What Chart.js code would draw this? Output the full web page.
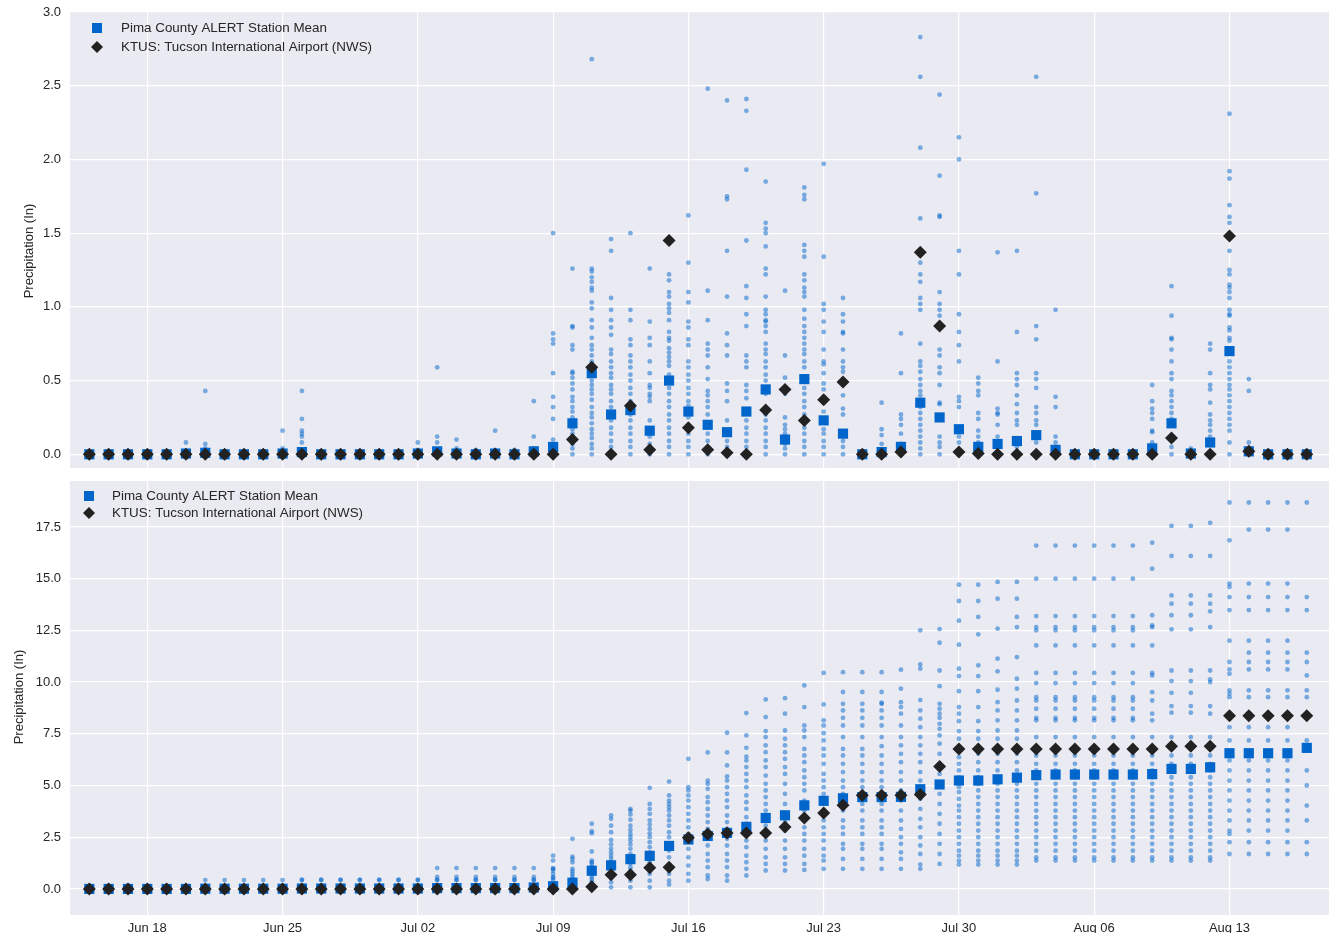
<!DOCTYPE html>
<html><head><meta charset="utf-8">
<script src="https://cdn.jsdelivr.net/npm/chart.js@4.4.1/dist/chart.umd.min.js"></script>
<style>
html,body{margin:0;padding:0;background:#fff;width:1331px;height:933px;overflow:hidden}
canvas{position:absolute;left:0}
#c1{top:0}
#c2{top:469px}
</style></head><body>
<canvas id="c1" width="1331" height="470"></canvas>
<canvas id="c2" width="1331" height="464"></canvas>
<script>
// Day index 0 = Jun 15 ... 63 = Aug 17
const tickDays = [3, 10, 17, 24, 31, 38, 45, 52, 59];
const tickLabels = ['Jun 18', 'Jun 25', 'Jul 02', 'Jul 09', 'Jul 16', 'Jul 23', 'Jul 30', 'Aug 06', 'Aug 13'];
const dailyTicks = [0, 0.5, 1.0, 1.5, 2.0, 2.5, 3.0];
const cumTicks = [0, 2.5, 5.0, 7.5, 10.0, 12.5, 15.0, 17.5];

// Daily precipitation: station mean and KTUS
const meanDaily = [0,0,0,0,0,0.005,0.01,0,0,0,0.005,0.015,0,0,0,0,0,0.005,0.02,0.005,0,0.005,0,0.02,
  0.05,0.21,0.55,0.27,0.3,0.16,0.5,0.29,0.2,0.15,0.29,0.44,0.1,0.51,0.23,0.14,
  0,0.015,0.05,0.35,0.25,0.17,0.05,0.07,0.09,0.13,0.03,0,0,0,0,0.04,0.21,0.005,0.08,0.7,0.02,0,0,0];
const ktusDaily = [0,0,0,0,0,0,0,0,0,0,0,0,0,0,0,0,0,0,0,0,0,0,0,0,
  0,0.1,0.59,0,0.33,0.03,1.45,0.18,0.03,0.01,0,0.3,0.44,0.23,0.37,0.49,
  0,0,0.015,1.37,0.87,0.015,0.005,0,0,0,0,0,0,0,0,0,0.11,0,0,1.48,0.02,0,0,0];

// Daily precipitation at individual stations (one list per day)
const dailyStations = [
  [0],[0],[0],[0],[0],
  [0.08,0],
  [0.43,0.07,0.04,0],
  [0],[0],[0],
  [0.16,0.04,0],
  [0.43,0.24,0.16,0.14,0.12,0.08,0],
  [0],[0],[0],[0],[0],
  [0.08,0.03,0],
  [0.59,0.12,0.08,0],
  [0.1,0.04,0],
  [0.03,0],
  [0.16,0.03,0],
  [0.03,0],
  [0.36,0.12,0.04,0],
  [1.5,0.82,0.78,0.75,0.55,0.39,0.32,0.24,0.1,0.05,0],
  [1.26,0.87,0.86,0.74,0.71,0.56,0.55,0.52,0.48,0.44,0.39,0.36,0.32,0.29,0.25,0.21,0.17,0.14,0.1,0.07,0.04,0],
  [2.68,1.26,1.24,1.2,1.17,1.13,1.11,1.03,0.99,0.91,0.86,0.79,0.74,0.71,0.67,0.63,0.59,0.55,0.5,0.47,0.44,0.41,0.37,0.32,0.28,0.25,0.21,0.17,0.14,0.11,0.07,0.04,0],
  [1.46,1.38,1.06,0.98,0.91,0.86,0.81,0.71,0.68,0.63,0.59,0.55,0.52,0.47,0.44,0.41,0.36,0.32,0.26,0.23,0.18,0.14,0.09,0.05,0],
  [1.5,0.98,0.91,0.78,0.74,0.67,0.63,0.59,0.54,0.5,0.45,0.41,0.36,0.33,0.3,0.27,0.23,0.18,0.14,0.09,0.05,0],
  [1.26,0.9,0.79,0.74,0.63,0.55,0.47,0.45,0.41,0.39,0.36,0.23,0.16,0.12,0.07,0.02,0],
  [1.22,1.18,1.1,1.07,1.02,0.99,0.96,0.91,0.83,0.79,0.77,0.72,0.69,0.66,0.63,0.6,0.54,0.5,0.45,0.41,0.36,0.32,0.27,0.23,0.18,0.14,0.09,0.05,0],
  [1.62,1.3,1.1,1.03,0.9,0.86,0.78,0.74,0.63,0.59,0.54,0.5,0.45,0.41,0.36,0.33,0.29,0.25,0.18,0.14,0.09,0.05,0],
  [2.48,1.11,0.91,0.75,0.71,0.67,0.59,0.51,0.43,0.4,0.36,0.32,0.27,0.2,0.14,0.09,0.03,0],
  [2.4,1.75,1.73,1.38,1.07,0.82,0.74,0.67,0.48,0.43,0.36,0.23,0.15,0.09,0.05,0],
  [2.41,2.33,1.93,1.45,1.14,1.06,0.95,0.87,0.67,0.63,0.59,0.47,0.43,0.38,0.29,0.23,0.18,0.14,0.09,0.05,0],
  [1.85,1.57,1.53,1.5,1.41,1.26,1.22,1.07,0.98,0.95,0.91,0.9,0.87,0.83,0.75,0.71,0.68,0.63,0.59,0.54,0.5,0.44,0.41,0.3,0.27,0.23,0.18,0.14,0.09,0.05,0],
  [1.11,0.67,0.52,0.41,0.25,0.2,0.17,0.14,0.1,0.07,0.04,0],
  [1.81,1.76,1.73,1.42,1.38,1.34,1.22,1.18,1.13,1.1,1.07,0.98,0.92,0.87,0.83,0.79,0.75,0.71,0.68,0.63,0.59,0.51,0.45,0.41,0.36,0.32,0.27,0.23,0.18,0.14,0.09,0.05,0],
  [1.97,1.34,1.02,0.98,0.9,0.83,0.71,0.63,0.61,0.55,0.48,0.44,0.37,0.29,0.22,0.17,0.14,0.09,0.05,0],
  [1.06,0.95,0.9,0.83,0.82,0.71,0.63,0.59,0.56,0.49,0.4,0.31,0.27,0.13,0.09,0.05,0],
  [0.02,0],
  [0.35,0.17,0.13,0.07,0],
  [0.82,0.55,0.27,0.24,0.2,0.14,0.07,0],
  [2.83,2.56,2.08,1.6,1.3,1.22,1.17,1.06,1.02,0.98,0.75,0.63,0.6,0.56,0.51,0.47,0.43,0.4,0.35,0.32,0.28,0.24,0.2,0.16,0.12,0.08,0.04,0],
  [2.44,1.89,1.62,1.61,1.1,1.02,0.98,0.94,0.71,0.67,0.59,0.55,0.47,0.35,0.34,0.25,0.12,0.08,0.05,0],
  [2.15,2.0,1.38,1.22,0.95,0.83,0.74,0.63,0.39,0.36,0.32,0.17,0.12,0.08,0],
  [0.52,0.48,0.43,0.4,0.28,0.24,0.16,0.12,0.08,0.04,0],
  [1.37,0.63,0.31,0.28,0.27,0.2,0.12,0.07,0],
  [1.38,0.83,0.55,0.51,0.47,0.4,0.34,0.28,0.23,0.2,0.09,0.05,0],
  [2.56,1.77,0.87,0.78,0.55,0.51,0.45,0.32,0.28,0.23,0.2,0.13,0.08,0],
  [0.98,0.39,0.32,0.12,0.08,0.03,0],
  [0],[0],[0],[0],
  [0.47,0.36,0.31,0.28,0.24,0.16,0.15,0.08,0.04,0],
  [1.14,0.94,0.79,0.78,0.71,0.63,0.55,0.51,0.43,0.4,0.36,0.32,0.28,0.24,0.21,0.11,0.05,0],
  [0.04,0],
  [0.75,0.71,0.55,0.47,0.44,0.35,0.27,0.23,0.2,0.16,0.12,0.07,0],
  [2.31,1.92,1.87,1.69,1.61,1.57,1.38,1.25,1.22,1.15,1.13,1.1,1.06,0.98,0.95,0.94,0.86,0.84,0.79,0.77,0.63,0.59,0.55,0.51,0.47,0.44,0.4,0.36,0.32,0.28,0.24,0.2,0.16,0.08,0],
  [0.51,0.43,0.08,0.02,0],
  [0],[0],[0]
];

// Cumulative precipitation: station mean and KTUS
const meanCum = [0,0,0,0,0,0,0.01,0.01,0.01,0.01,0.01,0.02,0.02,0.02,0.02,0.02,0.02,0.02,0.04,0.04,0.04,0.04,0.04,0.07,
  0.13,0.3,0.88,1.14,1.44,1.6,2.08,2.39,2.56,2.71,3.0,3.43,3.56,4.04,4.26,4.38,
  4.44,4.44,4.45,4.82,5.05,5.24,5.24,5.3,5.38,5.5,5.53,5.53,5.53,5.53,5.53,5.55,5.8,5.8,5.88,6.56,6.56,6.56,6.56,6.82];
const ktusCum = [0,0,0,0,0,0,0,0,0,0,0,0,0,0,0,0,0,0,0,0,0,0,0,0,0,0,
  0.1,0.69,0.69,1.03,1.05,2.48,2.66,2.7,2.71,2.71,3.0,3.43,3.67,4.05,
  4.53,4.53,4.53,4.56,5.92,6.77,6.77,6.77,6.77,6.77,6.77,6.77,6.77,6.77,6.77,6.77,6.9,6.9,6.9,8.37,8.37,8.37,8.37,8.37];

// Cumulative precipitation at individual stations (one list per day)
const cumStations = [
  [0],[0],[0],[0],[0],[0],
  [0.43,0],[0.43,0],[0.43,0],[0.43,0],[0.43,0],
  [0.45,0.43,0],[0.45,0.43,0],[0.45,0.43,0],[0.45,0.43,0],[0.45,0.43,0],[0.45,0.43,0],[0.45,0.43,0],
  [1.01,0.58,0.45,0.43,0],[1.01,0.58,0.45,0.43,0],[1.01,0.58,0.45,0.43,0],[1.01,0.58,0.45,0.43,0],[1.01,0.58,0.45,0.43,0],[1.01,0.58,0.45,0.43,0],
  [1.61,1.37,1.01,0.97,0.89,0.73,0.58,0.53,0.43,0.24,0.11,0],
  [2.42,1.56,1.45,1.29,0.97,0.85,0.73,0.6,0.48,0.37,0.24,0.11,0],
  [3.15,2.79,2.69,1.81,1.37,1.29,1.21,1.05,0.89,0.73,0.6,0.48,0.37,0.24,0.11,0],
  [3.55,3.39,3.06,2.74,2.37,2.15,1.94,1.77,1.61,1.45,1.29,1.05,0.89,0.73,0.53,0.32,0.08],
  [3.87,3.79,3.6,3.35,3.06,2.85,2.66,2.5,2.34,2.15,1.94,1.69,1.45,1.24,1.05,0.89,0.65,0.4,0.08],
  [4.89,4.11,3.87,3.63,3.31,3.11,2.9,2.69,2.5,2.26,2.02,1.77,1.53,1.29,1.05,0.73,0.4,0.08],
  [5.19,4.52,4.27,4.11,3.95,3.79,3.55,3.31,3.06,2.74,2.5,2.18,1.85,1.53,1.13,0.73,0.4,0.21],
  [6.29,4.92,4.76,4.52,4.27,3.95,3.63,3.31,2.98,2.66,2.34,1.94,1.53,1.13,0.73,0.4],
  [6.6,5.24,5.08,4.84,4.44,4.19,3.87,3.55,3.23,2.9,2.5,2.1,1.69,1.37,1.05,0.65,0.48],
  [7.55,6.6,5.97,5.44,5.24,4.92,4.6,4.27,3.95,3.55,3.23,2.9,2.42,2.1,1.69,1.37,1.05,0.65,0.4],
  [8.5,7.42,6.82,6.4,6.21,5.89,5.56,5.24,4.92,4.52,4.19,3.87,3.47,3.15,2.74,2.34,2.02,1.61,1.29,0.97,0.65],
  [9.16,8.31,7.63,7.34,6.94,6.61,6.21,5.89,5.48,5.08,4.76,4.44,4.11,3.79,3.47,3.06,2.74,2.34,1.94,1.53,1.21,0.89],
  [9.22,8.47,7.66,7.26,6.94,6.61,6.29,5.89,5.56,5.08,4.6,4.11,3.63,3.23,2.82,2.34,1.94,1.53,1.21,0.89],
  [9.84,8.79,7.9,7.66,7.34,6.77,6.45,6.13,5.73,5.4,5.08,4.76,4.27,3.79,3.31,2.98,2.66,2.34,1.94,1.61,1.21,0.92],
  [10.44,8.92,8.15,7.9,7.53,7.18,6.77,6.45,6.05,5.56,5.24,4.92,4.6,4.11,3.79,3.31,2.98,2.66,2.34,1.94,1.61,1.37,0.97],
  [10.48,9.52,8.95,8.63,8.27,7.9,7.34,6.77,6.45,6.05,5.65,5.24,4.92,4.6,4.11,3.79,3.31,2.98,2.66,2.18,1.94,1.45,0.97],
  [10.48,9.52,8.95,8.63,8.27,7.9,7.34,6.77,6.45,6.05,5.65,5.24,4.92,4.6,4.11,3.79,3.31,2.98,2.66,2.18,1.94,1.45,0.97],
  [10.48,9.52,9.0,8.95,8.63,8.27,7.9,7.34,6.9,6.45,6.05,5.65,5.24,4.92,4.6,4.11,3.79,3.31,2.98,2.66,2.18,1.94,1.45,0.97],
  [10.6,9.68,9.03,8.79,8.47,7.9,7.34,6.94,6.53,6.13,5.65,5.24,4.76,4.27,3.79,3.31,2.9,2.5,2.18,1.77,1.45,0.97],
  [12.5,10.85,10.65,9.13,8.63,8.23,7.82,7.34,6.94,6.53,6.13,5.65,5.24,4.84,4.36,3.87,3.39,2.98,2.5,2.1,1.69,1.18,0.97],
  [12.56,11.9,10.56,9.8,8.95,8.71,8.47,8.27,7.98,7.74,7.42,7.02,6.53,6.05,5.56,5.08,4.6,4.11,3.63,3.15,2.66,2.18,1.69,1.21],
  [14.71,13.92,12.97,11.81,10.65,10.29,9.56,8.79,8.47,8.11,7.63,7.26,6.85,6.37,6.05,5.73,5.4,5.16,4.92,4.68,4.35,4.03,3.79,3.47,3.15,2.82,2.5,2.18,1.85,1.61,1.37,1.18],
  [14.71,13.92,13.15,12.31,10.81,10.29,9.56,8.79,8.11,7.63,7.26,6.85,6.53,6.13,5.73,5.4,5.08,4.76,4.44,4.11,3.79,3.47,3.15,2.82,2.5,2.18,1.85,1.61,1.37,1.18],
  [14.84,14.03,12.58,11.13,10.52,9.63,9.03,8.63,8.15,7.66,7.26,6.85,6.53,6.13,5.73,5.4,5.08,4.76,4.44,4.11,3.79,3.47,3.15,2.82,2.5,2.18,1.85,1.61,1.37,1.18],
  [14.84,14.03,13.15,12.66,11.21,10.16,9.68,9.11,8.63,8.15,7.66,7.26,6.85,6.53,6.13,5.73,5.4,5.08,4.76,4.44,4.11,3.79,3.47,3.15,2.82,2.5,2.18,1.85,1.61,1.37,1.18],
  [16.6,15.0,13.19,12.66,12.5,11.77,10.44,9.95,9.27,9.11,8.71,8.27,8.15,7.34,6.85,6.45,6.05,5.73,5.4,5.08,4.76,4.44,4.11,3.79,3.47,3.15,2.82,2.5,2.18,1.85,1.53,1.37],
  [16.6,15.0,13.19,12.66,12.5,11.77,10.44,9.95,9.27,9.11,8.71,8.27,8.15,7.34,6.85,6.45,6.05,5.73,5.4,5.08,4.76,4.44,4.11,3.79,3.47,3.15,2.82,2.5,2.18,1.85,1.53,1.37],
  [16.6,15.0,13.19,12.66,12.5,11.77,10.44,9.95,9.27,9.11,8.71,8.27,8.15,7.34,6.85,6.45,6.05,5.73,5.4,5.08,4.76,4.44,4.11,3.79,3.47,3.15,2.82,2.5,2.18,1.85,1.53,1.37],
  [16.6,15.0,13.19,12.66,12.5,11.77,10.44,9.95,9.27,9.11,8.71,8.27,8.15,7.34,6.85,6.45,6.05,5.73,5.4,5.08,4.76,4.44,4.11,3.79,3.47,3.15,2.82,2.5,2.18,1.85,1.53,1.37],
  [16.6,15.0,13.19,12.66,12.5,11.77,10.44,9.95,9.27,9.11,8.71,8.27,8.15,7.34,6.85,6.45,6.05,5.73,5.4,5.08,4.76,4.44,4.11,3.79,3.47,3.15,2.82,2.5,2.18,1.85,1.53,1.37],
  [16.6,15.0,13.19,12.66,12.5,11.77,10.44,9.95,9.27,9.11,8.71,8.27,8.15,7.34,6.85,6.45,6.05,5.73,5.4,5.08,4.76,4.44,4.11,3.79,3.47,3.15,2.82,2.5,2.18,1.85,1.53,1.37],
  [16.74,15.48,13.23,12.74,12.66,11.77,10.44,10.32,9.51,9.11,8.47,8.15,7.34,6.85,6.45,6.05,5.73,5.4,5.08,4.76,4.44,4.11,3.79,3.47,3.15,2.82,2.5,2.18,1.85,1.53,1.37],
  [17.55,16.1,14.19,13.79,13.23,12.55,10.56,10.05,9.48,8.84,8.52,7.34,6.85,6.45,6.05,5.73,5.4,5.08,4.76,4.44,4.11,3.79,3.47,3.15,2.82,2.5,2.18,1.85,1.53,1.37],
  [17.55,16.1,14.19,13.79,13.23,12.55,10.56,10.05,9.48,8.84,8.52,7.34,6.85,6.45,6.05,5.73,5.4,5.08,4.76,4.44,4.11,3.79,3.47,3.15,2.82,2.5,2.18,1.85,1.53,1.37],
  [17.7,16.1,14.19,13.79,13.42,12.66,10.56,10.13,10.0,8.84,8.47,7.34,6.85,6.45,6.05,5.73,5.4,5.08,4.76,4.44,4.11,3.79,3.47,3.15,2.82,2.5,2.18,1.85,1.53,1.37],
  [18.68,16.85,14.76,14.6,14.11,13.48,12.0,10.97,10.61,10.4,9.6,9.44,9.27,8.47,7.82,7.18,6.69,6.21,5.73,5.24,4.76,4.27,3.79,3.31,2.82,2.66,2.26,1.69],
  [18.68,17.37,14.76,14.11,13.48,12.0,11.42,10.97,10.61,9.6,9.27,8.47,7.82,7.18,6.69,6.21,5.73,5.24,4.76,4.27,3.79,3.31,2.82,2.26,1.69],
  [18.68,17.37,14.76,14.11,13.48,12.0,11.42,10.97,10.61,9.6,9.27,8.47,7.82,7.18,6.69,6.21,5.73,5.24,4.76,4.27,3.79,3.31,2.82,2.26,1.69],
  [18.68,17.37,14.76,14.11,13.48,12.0,11.42,10.97,10.61,9.6,9.27,8.47,7.82,7.18,6.69,6.21,5.73,5.24,4.76,4.27,3.79,3.31,2.82,2.26,1.69],
  [18.68,14.11,13.48,11.42,10.97,10.32,9.6,9.27,8.47,7.18,5.73,5.0,4.03,3.31,2.26,1.69]
];

const FONT_FAMILY = '"Liberation Sans", Arial, sans-serif';
const TEXT = '#262626';
const BLUE = 'rgb(0,102,204)';
const DARK = '#222222';

function seriesPoints(vals) { return vals.map((v, d) => ({ x: d, y: v })); }
function stationPoints(lists) {
  const pts = [];
  lists.forEach((vals, d) => vals.forEach(v => pts.push({ x: d, y: v })));
  return pts;
}

const bgPlugin = {
  id: 'bg',
  beforeDraw(chart) {
    const { ctx, chartArea: a } = chart;
    ctx.save();
    ctx.fillStyle = '#EAEAF2';
    ctx.fillRect(a.left, a.top, a.right - a.left, a.bottom - a.top);
    ctx.restore();
  }
};

const overlayPlugin = {
  id: 'overlay',
  afterDraw(chart, args, o) {
    const ctx = chart.ctx;
    ctx.save();
    ctx.fillStyle = TEXT;
    ctx.font = '13px ' + FONT_FAMILY;
    ctx.textAlign = 'center';
    ctx.textBaseline = 'middle';
    ctx.translate(o.titleX, o.titleY);
    ctx.rotate(-Math.PI / 2);
    ctx.fillText('Precipitation (In)', 0, 0);
    ctx.restore();

    ctx.save();
    ctx.fillStyle = BLUE;
    ctx.fillRect(o.mx - 5, o.my - 5, 10, 10);
    ctx.fillStyle = DARK;
    const dy = o.my + o.lh, r = 6;
    ctx.beginPath();
    ctx.moveTo(o.mx, dy - r); ctx.lineTo(o.mx + r, dy); ctx.lineTo(o.mx, dy + r); ctx.lineTo(o.mx - r, dy);
    ctx.closePath(); ctx.fill();
    ctx.fillStyle = TEXT;
    ctx.font = '13.4px ' + FONT_FAMILY;
    ctx.textAlign = 'left';
    ctx.textBaseline = 'middle';
    ctx.fillText('Pima County ALERT Station Mean', o.tx, o.my);
    ctx.fillText('KTUS: Tucson International Airport (NWS)', o.tx, dy);
    ctx.restore();
  }
};

function makeChart(id, cfg) {
  const pad = { left: 0, top: cfg.target.top, right: 1331 - cfg.target.right, bottom: cfg.h - cfg.target.bottom - cfg.xHeight };
  const config = {
    type: 'scatter',
    plugins: [bgPlugin, overlayPlugin],
    data: {
      datasets: [
        { label: 'KTUS: Tucson International Airport (NWS)', data: seriesPoints(cfg.ktus), order: 0,
          pointStyle: 'rectRot', pointRadius: 6.5, pointBackgroundColor: DARK, pointBorderWidth: 0 },
        { label: 'Pima County ALERT Station Mean', data: seriesPoints(cfg.mean), order: 1,
          pointStyle: 'rect', pointRadius: 7.2, pointBackgroundColor: BLUE, pointBorderWidth: 0 },
        { label: 'Stations', data: stationPoints(cfg.stations), order: 2,
          pointStyle: 'circle', pointRadius: 2.4, pointBackgroundColor: 'rgba(0,102,204,0.5)', pointBorderWidth: 0 }
      ]
    },
    options: {
      responsive: false,
      animation: false,
      devicePixelRatio: 1,
      events: [],
      layout: { padding: pad, autoPadding: false },
      plugins: { legend: { display: false }, tooltip: { enabled: false }, overlay: cfg.overlay },
      scales: {
        x: {
          type: 'linear', min: -1, max: 64.15,
          afterBuildTicks: s => { s.ticks = tickDays.map(v => ({ value: v })); },
          afterFit: s => { s.height = cfg.xHeight; s.paddingLeft = 0; s.paddingRight = 0; },
          grid: { color: '#ffffff', lineWidth: 1.2, drawTicks: false },
          border: { display: false },
          ticks: { display: cfg.showX, autoSkip: false, maxRotation: 0, padding: 6, color: TEXT,
            font: { family: FONT_FAMILY, size: 13 },
            callback: v => { const i = tickDays.indexOf(v); return i >= 0 ? tickLabels[i] : ''; } }
        },
        y: {
          min: cfg.yMin, max: cfg.yMax,
          afterBuildTicks: s => { s.ticks = cfg.yTicks.map(v => ({ value: v })); },
          afterFit: s => { s.width = 70; s.paddingTop = 0; s.paddingBottom = 0; },
          grid: { color: '#ffffff', lineWidth: 1.2, drawTicks: false },
          border: { display: false },
          ticks: { padding: 9, color: TEXT, font: { family: FONT_FAMILY, size: 13 },
            callback: v => Number(v).toFixed(1) }
        }
      }
    }
  };
  const chart = new Chart(document.getElementById(id), config);
  // nudge the layout padding so the plot area lands exactly on the target box
  for (let k = 0; k < 3; k++) {
    const a = chart.chartArea, t = cfg.target;
    const dT = t.top - a.top, dB = a.bottom - t.bottom, dR = a.right - t.right;
    if (Math.abs(dT) < 0.5 && Math.abs(dB) < 0.5 && Math.abs(dR) < 0.5) break;
    pad.top += dT; pad.bottom += dB; pad.right += dR;
    chart.config.options.layout.padding = Object.assign({}, pad);
    chart.update();
  }
  return chart;
}

makeChart('c1', {
  mean: meanDaily, ktus: ktusDaily, stations: dailyStations,
  yMin: -0.093, yMax: 3.0, yTicks: dailyTicks, h: 470,
  target: { top: 12, right: 1329, bottom: 468 }, xHeight: 0, showX: false,
  overlay: { titleX: 29, titleY: 251, mx: 97, my: 28, lh: 19, tx: 121 }
});
makeChart('c2', {
  mean: meanCum, ktus: ktusCum, stations: cumStations,
  yMin: -1.26, yMax: 19.72, yTicks: cumTicks, h: 464,
  target: { top: 12, right: 1329, bottom: 446 }, xHeight: 18, showX: true,
  overlay: { titleX: 19, titleY: 228, mx: 89, my: 27, lh: 17, tx: 112 }
});
</script>
</body></html>
